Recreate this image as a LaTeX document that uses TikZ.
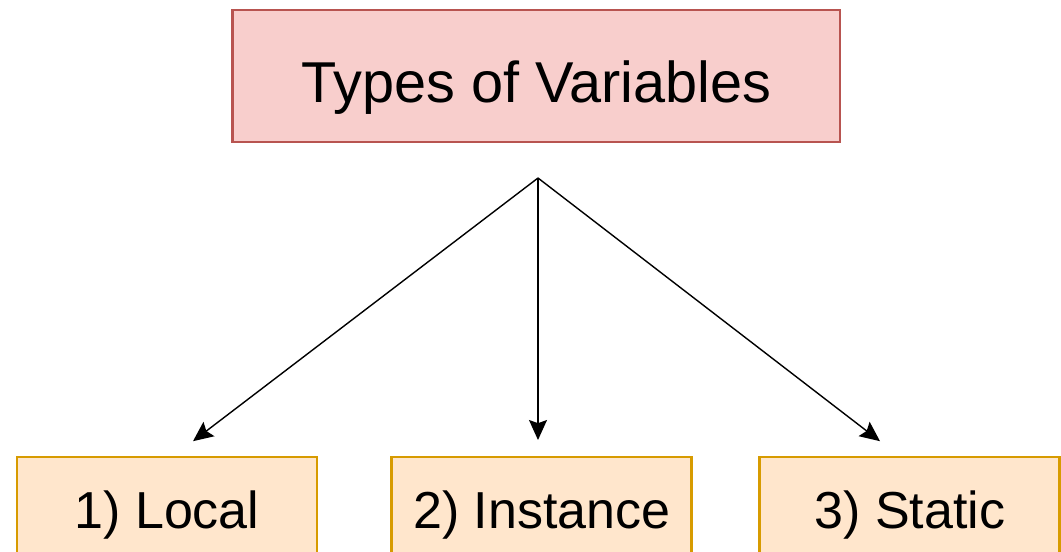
\documentclass[tikz,border=0pt]{standalone}
\usepackage{fontspec}
\setmainfont{Liberation Sans}
\usetikzlibrary{positioning,arrows.meta}
\definecolor{TitleFill}{HTML}{F8CECC}
\definecolor{TitleDraw}{HTML}{B85450}
\definecolor{TypeFill}{HTML}{FFE6CC}
\definecolor{TypeDraw}{HTML}{D79B00}
\tikzstyle{VarTitle}=[rectangle, draw=TitleDraw, fill=TitleFill, line width=2pt, minimum width=15.175cm, minimum height=3.3cm, text height=1.5cm, text depth=0.15cm, font=\fontsize{41}{49}\selectfont]
\tikzstyle{VarType}=[rectangle, draw=TypeDraw, fill=TypeFill, line width=2pt, minimum width=7.5cm, minimum height=2.5cm, text height=1.2cm, text depth=0.15cm, font=\fontsize{37}{44}\selectfont]
\tikzstyle{Arrow}=[-{Stealth[length=0.5cm, width=0.45cm, inset=0.08cm]}, line width=1pt]

\begin{document}
\begin{tikzpicture}
			\useasboundingbox (0,0) rectangle (26.525,-13.8);
			%Nodes
			\node[VarTitle]		(title)		at (13.41,-1.9)			{Types of Variables};

			\node[VarType]		(local)		at (4.175,-12.675)		{1) Local};
			\node[VarType]		(instance)	[right=1.8cm of local]		{2) Instance};
			\node[VarType]		(static)		[right=1.63cm of instance]	{3) Static};

			\coordinate		(split)		at (13.45,-4.45);
			\coordinate		(local_tip)	at (4.825,-11.03);
			\coordinate		(instance_tip)	at (13.45,-11.0);
			\coordinate		(static_tip)	at (22.0,-11.03);

			%Lines
			\draw[Arrow] (split) -- (local_tip);
			\draw[Arrow] (split) -- (instance_tip);
			\draw[Arrow] (split) -- (static_tip);

		\end{tikzpicture}
\end{document}
